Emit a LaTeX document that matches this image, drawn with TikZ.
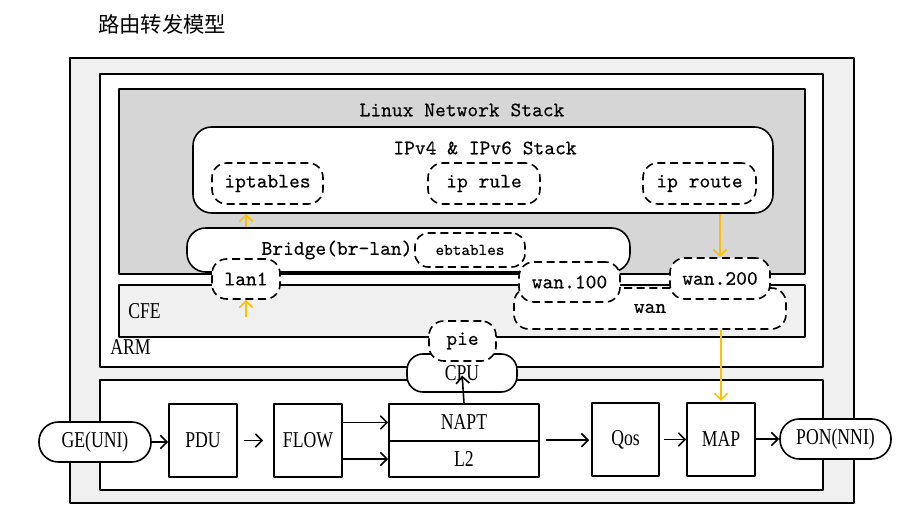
\documentclass[tikz,border=0pt]{standalone}
\usepackage{fontspec}
\usepackage{xcolor}
\usepackage{tikz}
\usetikzlibrary{arrows.meta,positioning,calc}
\newfontfamily\monofnt[FakeBold=0.3]{lmmono10-regular.otf}
\newfontfamily\narrowfnt[FakeStretch=0.78]{Liberation Serif}
\newfontfamily\cjkfnt{Noto Sans CJK SC}
\definecolor{boardgray}{HTML}{F0F0F0}
\definecolor{stackgray}{HTML}{D6D6D6}
\definecolor{hookyellow}{HTML}{FFC000}

\begin{document}
\begin{tikzpicture}[x=0.75pt, y=-0.75pt, line join=round,
  >={Straight Barb[length=5pt,width=10pt]},
  frame/.style={draw, line width=1.2pt},
  monolbl/.style={font=\monofnt\fontsize{15.4}{17}\selectfont, inner sep=0pt},
  narrowlbl/.style={font=\narrowfnt\fontsize{17}{19}\selectfont, inner sep=0pt},
  softbox/.style={draw, fill=white, line width=1.2pt, rounded corners=14pt, inner sep=0pt},
  dashnode/.style={monolbl, draw, fill=white, line width=1.2pt, dash pattern=on 6pt off 3.5pt,
    rounded corners=11pt, minimum height=30.75pt},
  blockbox/.style={narrowlbl, draw, fill=white, line width=1.2pt, minimum width=51pt, minimum height=54.75pt},
  pill/.style={narrowlbl, draw, fill=white, line width=1.2pt, rounded corners=14.5pt, minimum height=30pt},
  flowarrow/.style={->, line width=1.2pt},
  hookarrow/.style={->, line width=1.2pt, hookyellow}]
\useasboundingbox (0,0) rectangle (904,516);
% boards
\filldraw[frame, fill=boardgray] (70,58) rectangle (854,503);
\filldraw[frame, fill=white] (100,74) rectangle (823,367);
\filldraw[frame, fill=stackgray] (119,89) rectangle (805,274);
\filldraw[frame, fill=boardgray] (119,285) rectangle (805,337);
\filldraw[frame, fill=white] (100,380) rectangle (823,490);
\node[font=\cjkfnt\fontsize{16}{18}\selectfont, anchor=west, inner sep=0pt] (title) at (98,24) {路由转发模型};
\node[monolbl] (linuxlbl) at (462,110) {Linux Network Stack};
\node[narrowlbl, anchor=west] (cfelbl) at (128,311) {CFE};
\node[narrowlbl, anchor=west] (armlbl) at (110,347) {ARM};
% ip stack
\node[softbox, minimum width=435pt, minimum height=64.5pt] (ipstack) at (483,170) {};
\node[monolbl] (ipstacklbl) at (485,148) {IPv4 \& IPv6 Stack};
\node[dashnode, minimum width=83.25pt] (iptables) at (267.5,183.5) {iptables};
\node[dashnode, minimum width=84pt] (iprule) at (484,183.5) {ip rule};
\node[dashnode, minimum width=84.75pt] (iproute) at (699.5,183.5) {ip route};
% bridge
\node[softbox, minimum width=332.25pt, minimum height=33pt] (bridge) at (408.5,250) {};
\node[monolbl] (bridgelbl) at (337,250) {Bridge(br-lan)};
\node[dashnode, font=\monofnt\fontsize{12.3}{14}\selectfont, minimum width=82.5pt, minimum height=25.5pt,
  rounded corners=10pt] (ebtables) at (470,250) {ebtables};
\node[dashnode, minimum width=51pt, minimum height=30pt] (lan1) at (246,279) {lan1};
\node[dashnode, minimum width=204pt] (wan) at (650,308.5) {wan};
\node[dashnode, minimum width=75.75pt, minimum height=30pt] (wan100) at (569.5,282) {wan.100};
\node[dashnode, minimum width=75pt] (wan200) at (720,278.5) {wan.200};
% cpu
\node[softbox, narrowlbl, rounded corners=12pt, minimum width=82.5pt, minimum height=28.5pt] (cpu) at (462,373) {CPU};
\node[dashnode, minimum width=50.25pt, minimum height=30pt] (pie) at (462.5,341) {pie};
% forwarding path
\node[pill, minimum width=84pt] (ge) at (95,442) {GE(UNI)};
\node[blockbox] (pdu) at (203,440.5) {PDU};
\node[blockbox] (flow) at (308,440.5) {FLOW};
\node[blockbox, minimum width=112.5pt, minimum height=27.75pt] (napt) at (464,422.5) {NAPT};
\node[blockbox, minimum width=112.5pt, minimum height=27pt] (l2) at (464,459) {L2};
\node[blockbox, minimum width=50.25pt] (qos) at (625.5,439.5) {Qos};
\node[blockbox] (map) at (721,439.5) {MAP};
\node[pill, minimum width=83.25pt] (pon) at (835.5,439) {PON(NNI)};
\draw[flowarrow] (ge.east) -- (ge.east -| pdu.west);
\draw[flowarrow, shorten <=4.5pt, shorten >=7.5pt] (pdu) -- (flow);
\draw[flowarrow] (flow.east |- napt) -- (napt.west);
\draw[flowarrow] (flow.east |- l2) -- (l2.west);
\draw[flowarrow, shorten >=2pt] (napt.north) -- (cpu.center);
\draw[flowarrow, shorten <=4.5pt, shorten >=1.5pt] (l2.north east) -- (l2.north east -| qos.west);
\draw[flowarrow, shorten <=3pt] (qos) -- (map);
\draw[flowarrow] (map.east |- pon.west) -- (pon.west);
% yellow hooks
\coordinate (cfein) at (246,317);
\draw[hookarrow] (lan1 |- bridge.north) -- (lan1 |- ipstack.south);
\draw[hookarrow] (cfein) -- (lan1.south);
\draw[hookarrow] (wan200 |- ipstack.south) -- (wan200.north);
\draw[hookarrow, shorten >=1pt] (map |- wan.south) -- (map.north);
\end{tikzpicture}
\end{document}
